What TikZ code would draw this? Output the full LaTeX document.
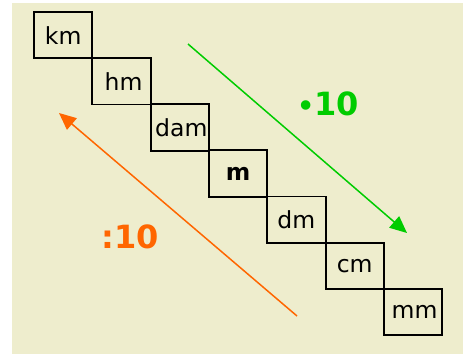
\documentclass[tikz,border=0pt]{standalone}
\usepackage{fontspec}
\setmainfont{DejaVu Sans}
\usetikzlibrary{arrows.meta}
\definecolor{bgbeige}{RGB}{238,237,205}
\definecolor{grn}{RGB}{0,204,0}
\definecolor{orng}{RGB}{255,102,0}
\tikzset{
  unitbox/.style={draw=black, line width=1.9pt, minimum width=58.3pt, minimum height=46.3pt, inner sep=0pt, font=\fontsize{23.5}{26}\selectfont},
  bigarrow/.style={line width=1.5pt, -{Triangle[length=17pt,width=15pt]}},
  factor/.style={font=\fontsize{32}{34}\selectfont\bfseries, inner sep=0pt}
}
\begin{document}
\begin{tikzpicture}[x=1pt,y=-1pt]
\useasboundingbox (0,0) rectangle (463,354);
\fill[bgbeige] (12,3) rectangle (463,354);
\node[unitbox] (km)  at (63.2,35.2) {km};
\node[unitbox] (hm)  at (121.5,81.3) {\hspace{4pt}hm};
\node[unitbox] (dam) at (179.8,127.4) {\hspace{3pt}dam};
\node[unitbox] (m)   at (238.1,173.5) {\textbf{m}};
\node[unitbox] (dm)  at (296.4,219.6) {dm\hspace{6pt}};
\node[unitbox] (cm)  at (354.7,265.7) {cm};
\node[unitbox] (mm)  at (413.0,311.8) {\hspace{3pt}mm};
\coordinate (g1) at (188,44);
\coordinate (g2) at (407,233);
\coordinate (o1) at (297,316);
\coordinate (o2) at (59,113);
\draw[bigarrow, grn] (g1) -- (g2);
\draw[bigarrow, orng] (o1) -- (o2);
\node[factor, text=grn] (mul) at (328,104) {{\fontsize{27}{27}\selectfont•}10};
\node[factor, text=orng] (div) at (130,237) {:10};
\end{tikzpicture}
\end{document}
